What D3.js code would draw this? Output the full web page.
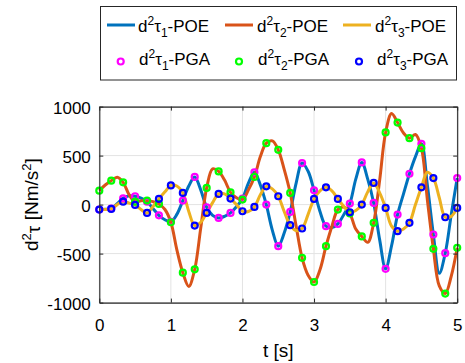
<!DOCTYPE html>
<html>
<head>
<meta charset="utf-8">
<script src="https://cdn.jsdelivr.net/npm/d3@7"></script>
<style>
	html, body { margin: 0; padding: 0; background: #fff; }
	svg { display: block; font-family: 'Liberation Sans', Arial, sans-serif; }
</style>
</head>
<body>
<div id="chart"></div>
<script>
'use strict';

// sample times [s]
let tPGA = [0, 0.167, 0.333, 0.5, 0.667, 0.833, 1, 1.167, 1.333, 1.5, 1.667, 1.833, 2, 2.167, 2.333, 2.5,
	2.667, 2.833, 3, 3.167, 3.333, 3.5, 3.667, 3.833, 4, 4.167, 4.333, 4.5, 4.667, 4.833, 5];
let tPOE = [0, 0.083, 0.167, 0.25, 0.333, 0.417, 0.5, 0.583, 0.667, 0.75, 0.833, 0.917, 1, 1.083, 1.167, 1.25,
	1.333, 1.417, 1.5, 1.583, 1.667, 1.75, 1.833, 1.917, 2, 2.083, 2.167, 2.25, 2.333, 2.417, 2.5, 2.583,
	2.667, 2.75, 2.833, 2.917, 3, 3.083, 3.167, 3.25, 3.333, 3.417, 3.5, 3.583, 3.667, 3.75, 3.833, 3.917,
	4, 4.083, 4.167, 4.25, 4.333, 4.417, 4.5, 4.583, 4.667, 4.75, 4.833, 4.917, 5];

// POE curves
let tau1POE = [-50, -48, -40, 10, 64, 90, 85, 65, 30, -40, -109, -155, -175, -100, 41, 190, 282, 150, -27, -110,
	-136, -120, -85, -20, 60, 220, 329, 200, 0, -260, -424, -290, -75, 220, 424, 340, 146, -70, -220, -235,
	-197, -100, 10, 260, 430, 260, 17, -360, -655, -420, -102, 110, 315, 490, 620, 200, -305, -700, -496, -100, 271];
let tau2POE = [142, 200, 244, 280, 227, 100, 30, 40, 41, 30, 7, -50, -180, -460, -695, -835, -660, -240, 170, 365,
	339, 250, 125, 70, 51, 150, 282, 490, 627, 650, 559, 360, 119, -220, -543, -720, -790, -665, -424, -220,
	-51, -25, -90, -250, -325, -385, -186, 250, 736, 930, 837, 730, 678, 715, 576, 50, -451, -830, -908, -730, -441];
let tau3POE = [-51, -50, -44, 0, 30, 15, -3, -50, -85, -20, 58, 130, 196, 190, 119, -70, -214, -180, -85, 20,
	109, 110, 61, 0, -68, -70, -24, 100, 186, 160, 85, -70, -210, -265, -244, -100, 58, 140, 176, 140,
	58, -20, -78, -60, 0, 130, 221, 120, -34, -220, -271, -250, -186, 0, 176, 330, 271, 70, -129, -120, -34];

// PGA samples
let tau1PGA = [-50, -40, 64, 85, 30, -109, -175, 41, 282, -27, -136, -85, 60, 329, 0, -424, -75, 424, 146, -220,
	-197, 10, 430, 17, -655, -102, 315, 620, -305, -496, 271];
let tau2PGA = [142, 244, 227, 30, 41, 7, -180, -695, -660, 170, 339, 125, 51, 282, 627, 559, 119, -543, -790, -424,
	-51, -90, -325, -186, 736, 837, 678, 576, -451, -908, -441];
let tau3PGA = [-51, -44, 30, -3, -85, 58, 196, 119, -214, -85, 109, 61, -68, -24, 186, 85, -210, -244, 58, 176,
	58, -78, 0, 221, -34, -271, -186, 176, 271, -129, -34];

let xTicks = [0, 1, 2, 3, 4, 5];
let yTicks = [-1000, -500, 0, 500, 1000];
let jointIdx = ['1', '2', '3'];
let lineColors = ['#0072bd', '#d95319', '#edb120'];
let markColors = ['#ff00ff', '#00ff00', '#0000ff'];

const W = 465, H = 363;
const FS = 17;      // ticks, legend
const FL = 19;      // axis labels
const FSS = 12;     // super/subscripts
let pLeft = 99.3, pRight = 457.2, pTop = 106.6, pBottom = 302.6;

let svg = d3.select('#chart')
	.append('svg')
		.attr('width', W)
		.attr('height', H)
	;

let x = d3.scaleLinear().domain([0, 5]).range([pLeft, pRight]);
let y = d3.scaleLinear().domain([-1000, 1000]).range([pBottom, pTop]);

// grid
let grid = svg.append('g').attr('stroke', '#e3e3e3').attr('stroke-width', 1);
for (let v of xTicks) {
	grid.append('line').attr('x1', x(v)).attr('x2', x(v)).attr('y1', pTop).attr('y2', pBottom);
}
for (let v of yTicks) {
	grid.append('line').attr('x1', pLeft).attr('x2', pRight).attr('y1', y(v)).attr('y2', y(v));
}

// curves
let plot = svg.append('g');
let poe = [tau1POE, tau2POE, tau3POE];
for (let i=0 ; i<poe.length ; ++i) {
	let line = d3.line()
		.x((d, j) => x(tPOE[j]))
		.y(d => y(d))
		.curve(d3.curveCatmullRom.alpha(0.5))
		;
	plot.append('path')
		.attr('d', line(poe[i]))
		.attr('fill', 'none')
		.attr('stroke', lineColors[i])
		.attr('stroke-width', 3)
		.attr('stroke-linejoin', 'round')
		;
}

let pga = [tau1PGA, tau2PGA, tau3PGA];
for (let i=0 ; i<pga.length ; ++i) {
	plot.append('g')
		.selectAll('circle')
		.data(pga[i])
		.join('circle')
			.attr('cx', (d, j) => x(tPGA[j]))
			.attr('cy', d => y(d))
			.attr('r', 3)
			.attr('fill', 'none')
			.attr('stroke', markColors[i])
			.attr('stroke-width', 2.2)
		;
}

// axes with inward ticks on all four sides
let axC = '#262626';
let axB = svg.append('g').attr('transform', `translate(0,${pBottom})`)
	.call(d3.axisBottom(x).tickValues(xTicks).tickSizeInner(-4).tickSizeOuter(0).tickFormat(d3.format('d')));
let axT = svg.append('g').attr('transform', `translate(0,${pTop})`)
	.call(d3.axisTop(x).tickValues(xTicks).tickSizeInner(-4).tickSizeOuter(0).tickFormat(''));
let axL = svg.append('g').attr('transform', `translate(${pLeft},0)`)
	.call(d3.axisLeft(y).tickValues(yTicks).tickSizeInner(-4).tickSizeOuter(0).tickFormat(d3.format('d')));
let axR = svg.append('g').attr('transform', `translate(${pRight},0)`)
	.call(d3.axisRight(y).tickValues(yTicks).tickSizeInner(-4).tickSizeOuter(0).tickFormat(''));
for (let a of [axB, axT, axL, axR]) {
	a.select('.domain').attr('stroke', axC).attr('stroke-width', 1.1);
	a.selectAll('.tick line').attr('stroke', axC);
	a.selectAll('.tick text').attr('fill', '#000').attr('font-size', FS).attr('font-family', null);
}
axB.selectAll('.tick text').attr('y', 0).attr('dy', null).attr('transform', 'translate(0,28)');
axL.selectAll('.tick text').attr('x', -8.5).attr('dy', null).attr('y', 7);
axL.selectAll('.tick text').text(d => d < 0 ? '-' + Math.abs(d) : d);

// axis labels
svg.append('text')
	.attr('x', (pLeft + pRight)/2)
	.attr('y', 357)
	.attr('text-anchor', 'middle')
	.attr('font-size', FL)
	.text('t [s]')
	;

let yl = svg.append('text')
	.attr('transform', `translate(38,${(pTop + pBottom)/2}) rotate(-90)`)
	.attr('text-anchor', 'middle')
	.attr('font-size', FL)
	;
yl.append('tspan').text('d');
yl.append('tspan').attr('dy', -7.5).attr('font-size', FSS + 1).text('2');
yl.append('tspan').attr('dy', 9).text('τ');
yl.append('tspan').attr('dy', -1.5).text(' [Nm/s');
yl.append('tspan').attr('dy', -7.5).attr('font-size', FSS + 1).text('2');
yl.append('tspan').attr('dy', 7.5).text(']');

// legend
let leg = svg.append('g');
leg.append('rect')
	.attr('x', 100.5).attr('y', 6.5).attr('width', 356).attr('height', 73.5)
	.attr('fill', '#fff').attr('stroke', axC).attr('stroke-width', 1)
	;

function legLabel(g, tx, ty, idx, kind) {
	let t = g.append('text').attr('x', tx).attr('y', ty).attr('font-size', FS);
	t.append('tspan').text('d');
	t.append('tspan').attr('dy', -7).attr('font-size', FSS).text('2');
	t.append('tspan').attr('dy', 7).text('τ');
	t.append('tspan').attr('dy', 5).attr('font-size', FSS).text(idx);
	t.append('tspan').attr('dy', -5).text('-' + kind);
}

let lineX = [107, 225, 343];
let markX = [120.7, 239, 359];
let textX1 = [138, 257, 375];
let textX2 = [139, 258, 377];
for (let i=0 ; i<3 ; ++i) {
	leg.append('line')
		.attr('x1', lineX[i]).attr('x2', lineX[i] + 28)
		.attr('y1', 25).attr('y2', 25)
		.attr('stroke', lineColors[i]).attr('stroke-width', 3)
		;
	legLabel(leg, textX1[i], 32, jointIdx[i], 'POE');

	leg.append('circle')
		.attr('cx', markX[i]).attr('cy', 61.5).attr('r', 3)
		.attr('fill', 'none').attr('stroke', markColors[i]).attr('stroke-width', 2.2)
		;
	legLabel(leg, textX2[i], 65, jointIdx[i], 'PGA');
}
</script>
</body>
</html>
